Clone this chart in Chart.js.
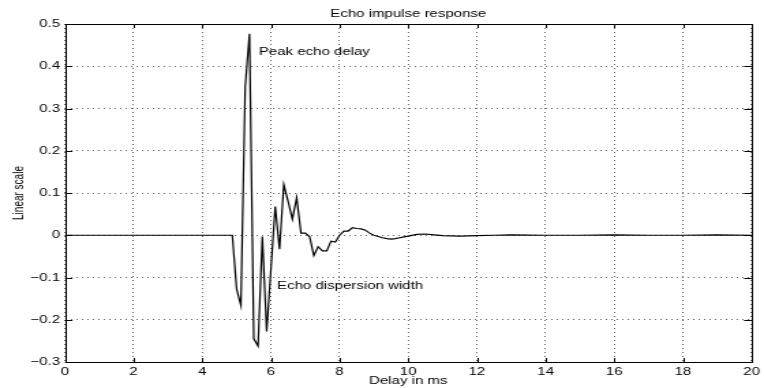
<!DOCTYPE html>
<html>
<head>
<meta charset="utf-8">
<title>Echo impulse response</title>
<script src="https://cdn.jsdelivr.net/npm/chart.js@4.4.1/dist/chart.umd.min.js"></script>
<style>
    html, body { margin: 0; padding: 0; background: #fff; }
    .grafico { display: block; }
</style>
</head>
<body>
<!-- the figure is drawn at 560 wide and stretched to 764, like the original export -->
<canvas class="grafico" width="560" height="388" style="width: 764px; height: 388px;"></canvas>
<script>
// sample times in ms (8 kHz sampling around the echo, flat parts kept short)
const delayMs = [
    0, 4.875,
    5.0, 5.125, 5.25, 5.375, 5.5, 5.625, 5.75, 5.875,
    6.0, 6.125, 6.25, 6.375, 6.5, 6.625, 6.75, 6.875,
    7.0, 7.125, 7.25, 7.375, 7.5, 7.625, 7.75, 7.875,
    8.0, 8.125, 8.25, 8.375, 8.5, 8.625, 8.75, 8.875,
    9.0, 9.125, 9.25, 9.375, 9.5, 9.625, 9.75, 9.875,
    10.0, 10.25, 10.5, 10.75, 11.0, 11.5, 12.0, 12.5, 13.0,
    14.0, 15.0, 16.0, 17.0, 18.0, 19.0, 20.0
];
const response = [
    0, 0,
    -0.127, -0.166, 0.351, 0.477, -0.245, -0.262, -0.003, -0.228,
    -0.08, 0.068, -0.033, 0.12, 0.08, 0.038, 0.089, 0.005,
    0.005, -0.003, -0.048, -0.027, -0.037, -0.037, -0.014, -0.016,
    0.0, 0.01, 0.01, 0.018, 0.016, 0.015, 0.012, 0.005,
    0.0, -0.003, -0.006, -0.008, -0.009, -0.008, -0.006, -0.004,
    -0.002, 0.002, 0.003, 0.001, -0.001, -0.002, -0.001, 0.0, 0.001,
    0.0, 0.0, 0.001, 0.0, 0.0, 0.001, 0.0
];
const xTickLabels = ['0', '2', '4', '6', '8', '10', '12', '14', '16', '18', '20'];
const yTickLabels = ['\u22120.3', '\u22120.2', '\u22120.1', '0', '0.1', '0.2', '0.3', '0.4', '0.5'];

const noteTexts = ['Peak echo delay', 'Echo dispersion width'];
const noteAt = [[5.65, 0.434], [6.18, -0.119]]; // in data units (ms, linear)

const fontFamily = '"Liberation Sans", Arial, Helvetica, sans-serif';
Chart.defaults.font.family = fontFamily;
Chart.defaults.color = '#000';

// box around the axes, ticks pointing inwards, and the two text notes
const matlabFrame = {
    id: 'matlabFrame',
    afterDatasetsDraw(chart) {
        const { ctx, chartArea: a, scales: { x, y } } = chart;
        ctx.save();
        ctx.strokeStyle = '#000';
        ctx.lineWidth = 1;
        ctx.beginPath();
        y.ticks.forEach((t) => {
            const py = Math.round(y.getPixelForValue(t.value)) + 0.5;
            ctx.moveTo(a.left, py); ctx.lineTo(a.left + 5.5, py);
            ctx.moveTo(a.right, py); ctx.lineTo(a.right - 5.5, py);
        });
        x.ticks.forEach((t) => {
            const px = Math.round(x.getPixelForValue(t.value)) + 0.5;
            ctx.moveTo(px, a.bottom); ctx.lineTo(px, a.bottom - 4);
            ctx.moveTo(px, a.top); ctx.lineTo(px, a.top + 4);
        });
        ctx.stroke();
        ctx.strokeRect(Math.round(a.left) + 0.5, Math.round(a.top) + 0.5,
            Math.round(a.right - a.left), Math.round(a.bottom - a.top));

        ctx.fillStyle = '#000';
        ctx.font = `11px ${fontFamily}`;
        ctx.textAlign = 'left';
        ctx.textBaseline = 'middle';
        noteTexts.forEach((txt, i) => {
            ctx.fillText(txt, x.getPixelForValue(noteAt[i][0]), y.getPixelForValue(noteAt[i][1]));
        });
        ctx.restore();
    }
};

const canvas = document.querySelector('.grafico');

const config = {
    type: 'line',
    data: {
        datasets: [{
            data: delayMs.map((d, i) => ({ x: d, y: response[i] })),
            borderColor: '#000',
            borderWidth: 1.2,
            pointRadius: 0,
            tension: 0,
            fill: false
        }]
    },
    options: {
        responsive: false,
        animation: false,
        devicePixelRatio: 1,
        layout: { padding: { left: 0, right: 2.2, top: 0, bottom: 0 } },
        plugins: {
            legend: { display: false },
            tooltip: { enabled: false },
            title: {
                display: true,
                text: 'Echo impulse response',
                fullSize: false,
                color: '#000',
                font: { size: 11, weight: 'normal' },
                padding: { top: 7, bottom: 3.8 }
            }
        },
        scales: {
            x: {
                type: 'linear',
                min: 0,
                max: 20,
                afterFit: (scale) => { scale.height = 26; },
                ticks: {
                    stepSize: 2,
                    autoSkip: false,
                    maxRotation: 0,
                    padding: 3,
                    color: '#000',
                    font: { size: 11 },
                    callback: (value, index) => xTickLabels[index]
                },
                grid: { color: 'rgba(0,0,0,0.6)', lineWidth: 1, drawTicks: false },
                border: { display: false, dash: [1, 3] },
                title: {
                    display: true,
                    text: 'Delay in ms',
                    color: '#000',
                    font: { size: 11 },
                    padding: { top: 0, bottom: 0 }
                }
            },
            y: {
                min: -0.3,
                max: 0.5,
                afterFit: (scale) => { scale.width = 47.6; },
                ticks: {
                    stepSize: 0.1,
                    autoSkip: false,
                    padding: 3.6,
                    color: '#000',
                    font: { size: 11 },
                    callback: (value, index) => yTickLabels[index]
                },
                grid: { color: 'rgba(0,0,0,0.6)', lineWidth: 1, drawTicks: false },
                border: { display: false, dash: [1, 3] },
                title: {
                    display: true,
                    text: 'Linear scale',
                    color: '#000',
                    font: { size: 10 },
                    padding: { top: 8, bottom: 0 }
                }
            }
        }
    },
    plugins: [matlabFrame]
};

const myChart = new Chart(canvas, config);
</script>
</body>
</html>
